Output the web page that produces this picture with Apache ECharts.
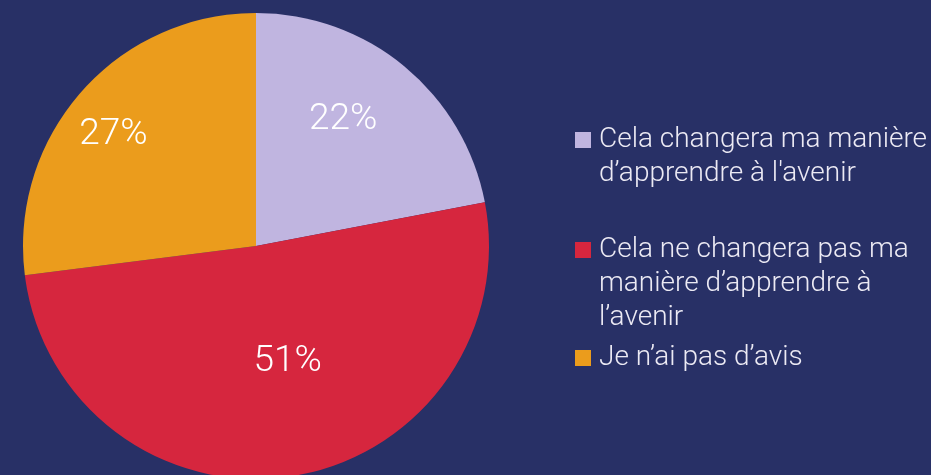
<!DOCTYPE html>
<html>
<head>
<meta charset="utf-8">
<script src="https://cdn.jsdelivr.net/npm/echarts@6/dist/echarts.min.js"></script>
<style>
  html, body { margin: 0; padding: 0; background: #283066; }
  #pieChart { width: 931px; height: 475px; }
</style>
</head>
<body>
<div id="pieChart"></div>
<script>
// données du graphique
var categories = [
    'Cela changera ma manière\nd\u2019apprendre à l\'avenir',
    'Cela ne changera pas ma\nmanière d\u2019apprendre à\nl\u2019avenir',
    'Je n\u2019ai pas d\u2019avis'
];
var values = [22, 51, 27];
var colors = ['#c0b5e0', '#d6263e', '#eb9c1c'];
// décalage des étiquettes par rapport à la position "inside"
var labelOffsets = [[11, -34], [13, -2], [-53, -32]];
// position verticale de chaque entrée de légende
var legendTops = [89, 165, 341];

var myChart = echarts.init(document.getElementById('pieChart'));

var legends = categories.map(function (name, i) {
    var lines = name.split('\n').length;
    return {
        orient: 'vertical',
        left: 575,
        top: legendTops[i],
        padding: 0,
        itemWidth: 16,
        itemHeight: 16,
        icon: 'rect',
        selectedMode: false,
        data: [name],
        // lignes vides en tête pour aligner le carré sur la première ligne
        formatter: function (n) {
            return new Array(lines).join('\n') + n;
        },
        textStyle: {
            color: '#eceaf4',
            fontFamily: 'Roboto',
            fontWeight: 300,
            fontSize: 28,
            lineHeight: 34,
            padding: [0, 0, 0, 3]
        }
    };
});

var option = {
    backgroundColor: '#283066',
    animation: false,
    legend: legends,
    series: [{
        type: 'pie',
        center: [256, 246],
        radius: 233,
        startAngle: 90,
        clockwise: true,
        emphasis: { disabled: true },
        label: {
            show: true,
            position: 'inside',
            formatter: '{c}%',
            color: '#ffffff',
            fontFamily: 'Roboto',
            fontWeight: 300,
            fontSize: 37
        },
        labelLine: { show: false },
        data: categories.map(function (name, i) {
            return {
                name: name,
                value: values[i],
                itemStyle: { color: colors[i] },
                label: { offset: labelOffsets[i] }
            };
        })
    }]
};

myChart.setOption(option);
</script>
</body>
</html>
